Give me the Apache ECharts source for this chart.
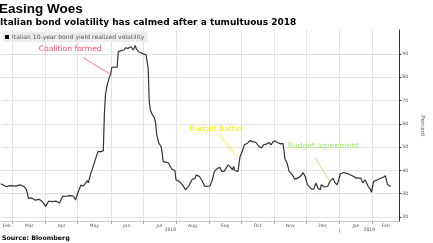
<!DOCTYPE html>
<html><head><meta charset="utf-8">
<script src="https://cdn.jsdelivr.net/npm/echarts@6/dist/echarts.min.js"></script>
<style>html,body{margin:0;padding:0;background:#fff}#c{width:433px;height:243px}</style>
</head><body><div id="c"></div>
<script>
const dates = ['2018-02-18','2018-02-23','2018-02-27','2018-03-04','2018-03-08','2018-03-12','2018-03-14','2018-03-16','2018-03-17','2018-03-19','2018-03-22','2018-03-26','2018-03-28','2018-03-30','2018-04-01','2018-04-04','2018-04-07','2018-04-11','2018-04-14','2018-04-17','2018-04-21','2018-04-24','2018-04-27','2018-04-29','2018-05-01','2018-05-04','2018-05-06','2018-05-08','2018-05-10','2018-05-11','2018-05-13','2018-05-15','2018-05-17','2018-05-19','2018-05-20','2018-05-23','2018-05-25','2018-05-26','2018-05-27','2018-05-28','2018-05-29','2018-05-31','2018-06-01','2018-06-02','2018-06-05','2018-06-07','2018-06-08','2018-06-09','2018-06-13','2018-06-15','2018-06-17','2018-06-20','2018-06-22','2018-06-24','2018-06-25','2018-06-27','2018-06-30','2018-07-04','2018-07-05','2018-07-06','2018-07-07','2018-07-08','2018-07-10','2018-07-12','2018-07-13','2018-07-14','2018-07-16','2018-07-18','2018-07-19','2018-07-20','2018-07-22','2018-07-25','2018-07-28','2018-07-31','2018-08-01','2018-08-02','2018-08-04','2018-08-07','2018-08-10','2018-08-13','2018-08-16','2018-08-19','2018-08-20','2018-08-23','2018-08-25','2018-08-28','2018-08-29','2018-09-02','2018-09-04','2018-09-06','2018-09-08','2018-09-11','2018-09-13','2018-09-15','2018-09-17','2018-09-19','2018-09-21','2018-09-23','2018-09-24','2018-09-25','2018-09-28','2018-09-29','2018-09-30','2018-10-02','2018-10-04','2018-10-07','2018-10-09','2018-10-12','2018-10-15','2018-10-17','2018-10-20','2018-10-22','2018-10-25','2018-10-27','2018-10-29','2018-10-31','2018-11-02','2018-11-04','2018-11-07','2018-11-09','2018-11-10','2018-11-11','2018-11-13','2018-11-15','2018-11-18','2018-11-20','2018-11-23','2018-11-26','2018-11-28','2018-11-30','2018-12-02','2018-12-06','2018-12-08','2018-12-10','2018-12-12','2018-12-14','2018-12-15','2018-12-18','2018-12-21','2018-12-23','2018-12-24','2018-12-26','2018-12-28','2018-12-30','2019-01-02','2019-01-03','2019-01-05','2019-01-09','2019-01-13','2019-01-17','2019-01-21','2019-01-23','2019-01-25','2019-01-28','2019-01-30','2019-01-31','2019-02-02','2019-02-04','2019-02-07','2019-02-08','2019-02-11','2019-02-13','2019-02-15','2019-02-17','2019-02-18'];
const values = [34.3,33.1,33.5,33.3,33.8,33.0,31.9,28.0,27.3,28.2,27.3,27.6,27.0,26.0,24.6,26.9,26.6,26.8,26.0,28.9,29.0,29.2,29.0,27.3,30.2,33.7,33.3,34.3,35.7,34.7,38.3,41.0,43.9,46.7,48.1,48.1,48.5,64.0,72.4,75.3,77.4,80.3,81.7,84.3,84.4,84.3,91.0,91.7,91.7,92.7,92.4,93.1,91.7,93.6,92.1,91.0,90.3,89.6,89.1,83.9,69.6,66.0,63.9,62.4,60.3,55.3,51.7,50.3,48.1,43.8,43.6,43.2,40.6,40.0,36.0,36.3,35.3,33.9,31.7,33.4,36.0,36.7,38.1,37.4,36.0,33.1,33.4,33.4,36.0,39.6,40.6,41.4,39.6,39.6,41.0,42.4,41.4,40.3,41.7,40.0,39.6,40.0,46.0,48.1,51.0,51.7,52.8,52.4,52.0,50.6,49.6,51.0,51.4,52.0,51.0,52.4,52.7,52.0,51.4,51.7,49.0,45.0,43.2,39.6,38.1,36.3,36.7,37.7,39.1,37.4,33.9,32.0,32.0,34.6,32.4,31.7,33.9,32.9,33.1,35.3,36.0,36.7,34.6,33.9,38.6,38.1,39.1,38.6,37.7,36.7,36.7,34.6,36.0,33.1,32.0,30.6,35.3,35.7,36.3,36.7,37.1,37.7,33.9,33.4,33.1];
const monthStarts = ['2018-02-01','2018-03-01','2018-04-01','2018-05-01','2018-06-01','2018-07-01','2018-08-01','2018-09-01','2018-10-01','2018-11-01','2018-12-01','2019-01-01','2019-02-01','2019-03-01'];
const monthLabels = ['Feb','Mar','Apr','May','Jun','Jul','Aug','Sep','Oct','Nov','Dec','Jan','Feb'];
const yearStarts = ['2018-01-01','2019-01-01','2020-01-01'];
const yearLabels = ['2018','2019'];
const yTicks = [20,30,40,50,60,70,80,90];
const seriesName = 'Italian 10-year bond yield realized volatility';
const annotations = [
  {text:'Coalition formed', color:'#ff4f6e', label:['2018-04-24',92.2], from:['2018-05-06',88.4], to:['2018-06-02',81.0]},
  {text:'Budget battle', color:'#f2f200', label:['2018-09-07',57.9], from:['2018-09-11',55.3], to:['2018-09-27',45.7]},
  {text:'Budget agreement', color:'#9ee86c', label:['2018-12-17',50.6], from:['2018-12-09',45.6], to:['2018-12-23',35.3]}
];

function ts(s){const p=s.split('-').map(Number);return new Date(p[0],p[1]-1,p[2]).getTime();}
const axisMin = new Date(2018,1,18,12).getTime();
const axisMax = new Date(2019,1,26).getTime();

const seriesData = dates.map((d,i)=>[ts(d), values[i]]);
const tickVals = monthStarts.map(ts).filter(t=>t>axisMin && t<axisMax);
const labelVals = monthLabels.map((m,i)=>{
  const a=Math.max(ts(monthStarts[i]),axisMin), b=Math.min(ts(monthStarts[i+1]),axisMax);
  return (a+b)/2;
});
const yearVals = yearLabels.map((y,i)=>{
  const a=Math.max(ts(yearStarts[i]),axisMin), b=Math.min(ts(yearStarts[i+1]),axisMax);
  return (a+b)/2;
});
function nearestLabel(v, vals, labels){
  let best=0, bd=Infinity;
  vals.forEach((x,i)=>{const d=Math.abs(x-v); if(d<bd){bd=d;best=i;}});
  return labels[best];
}

const chart = echarts.init(document.getElementById('c'), null, {renderer:'canvas'});
chart.setOption({
  animation:false,
  backgroundColor:'#fff',
  title:[
    {text:'Easing Woes', left:-1, top:2, padding:0, textStyle:{fontFamily:'Liberation Sans', fontSize:13.5, fontWeight:'bold', color:'#000'}},
    {text:'Italian bond volatility has calmed after a tumultuous 2018', left:0, top:18, padding:0, textStyle:{fontFamily:'DejaVu Sans', fontSize:9, fontWeight:'bold', color:'#000'}},
    {text:'Source: Bloomberg', left:2, top:235, padding:0, textStyle:{fontFamily:'DejaVu Sans', fontSize:6.3, fontWeight:'bold', color:'#000'}}
  ],
  legend:{
    left:3, top:32, padding:[2,3,2,2], itemWidth:4, itemHeight:4, itemGap:2,
    backgroundColor:'#ededed',
    data:[{name:seriesName, icon:'rect', itemStyle:{color:'#000'}}],
    textStyle:{fontFamily:'DejaVu Sans', fontSize:6.1, color:'#555', padding:[0,0,0,-2]}
  },
  grid:{left:0, right:19.7, top:30, bottom:21.3, containLabel:false},
  xAxis:[
    {type:'value', min:axisMin, max:axisMax, scale:true,
     axisLine:{show:true, onZero:false, lineStyle:{color:'#c8c8c8', width:1}},
     axisTick:{show:true, customValues:tickVals, length:2, lineStyle:{color:'#999'}},
     splitLine:{show:true, lineStyle:{color:'#e2e2e2', width:1}},
     axisLabel:{customValues:labelVals, formatter:v=>nearestLabel(v,labelVals,monthLabels), fontFamily:'DejaVu Sans', fontSize:4.6, color:'#555', margin:2, hideOverlap:false, showMinLabel:true, showMaxLabel:true}
    },
    {type:'value', min:axisMin, max:axisMax, scale:true, position:'bottom', offset:6,
     axisLine:{show:false, onZero:false},
     axisTick:{show:true, customValues:[ts(yearStarts[1])], length:5, lineStyle:{color:'#bbb'}},
     splitLine:{show:false},
     axisLabel:{customValues:yearVals, formatter:v=>nearestLabel(v,yearVals,yearLabels), fontFamily:'DejaVu Sans', fontSize:4.6, color:'#555', margin:0, showMinLabel:true, showMaxLabel:true}
    }
  ],
  yAxis:{type:'value', position:'right', min:18, max:100.3,
    name:'Percent', nameLocation:'middle', nameRotate:-90, nameGap:15,
    nameTextStyle:{fontFamily:'DejaVu Sans', fontSize:5.6, color:'#555'},
    axisLine:{show:true, onZero:false, lineStyle:{color:'#333', width:1}},
    axisTick:{show:true, customValues:yTicks, length:2, lineStyle:{color:'#333'}},
    axisLabel:{customValues:yTicks, fontFamily:'DejaVu Sans', fontSize:4.6, color:'#555', margin:3},
    splitLine:{show:true, lineStyle:{color:'#e2e2e2', width:1}}
  },
  series:[{
    name:seriesName, type:'line', data:seriesData, showSymbol:false, symbol:'none',
    lineStyle:{color:'#333', width:1.2}, itemStyle:{color:'#000'},
    markLine:{silent:true, symbol:['none','arrow'], symbolSize:[0,5], label:{show:false},
      data:annotations.map(a=>[
        {coord:[ts(a.from[0]),a.from[1]], lineStyle:{color:a.color, width:0.8, type:'solid'}},
        {coord:[ts(a.to[0]),a.to[1]]}
      ])},
    markPoint:{silent:true, symbol:'rect', symbolSize:1, itemStyle:{color:'rgba(0,0,0,0)'},
      data:annotations.map(a=>({coord:[ts(a.label[0]),a.label[1]],
        label:{show:true, position:'inside', formatter:a.text, color:a.color, fontFamily:'DejaVu Sans', fontSize:7.6}}))}
  }]
});
</script></body></html>
